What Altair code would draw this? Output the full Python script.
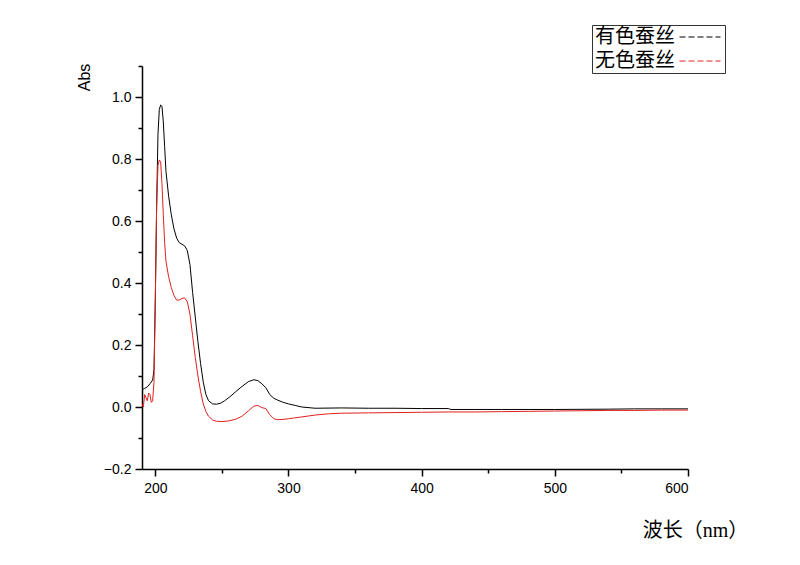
import altair as alt
import pandas as pd

series_names = ["有色蚕丝", "无色蚕丝"]
series_colors = ["#000000", "#e02020"]

black_nm = [190, 192, 194, 196, 198, 199, 200, 201, 202, 203, 204, 205, 206, 207, 208,
            210, 212, 214, 216, 218, 220, 222, 224, 226, 228, 230, 232, 234, 236, 238,
            240, 243, 246, 249, 252, 256, 260, 265, 270, 274, 277, 280, 283, 286, 289,
            292, 296, 300, 305, 310, 320, 340, 360, 380, 400, 420, 422, 440, 460, 500,
            540, 560, 580, 600]
black_abs = [0.055, 0.06, 0.065, 0.075, 0.087, 0.12, 0.35, 0.65, 0.88, 0.96, 0.974, 0.97, 0.92, 0.84, 0.76,
             0.68, 0.62, 0.575, 0.545, 0.53, 0.525, 0.52, 0.505, 0.46, 0.37, 0.29, 0.21, 0.14, 0.08, 0.04,
             0.02, 0.01, 0.009, 0.012, 0.02, 0.033, 0.048, 0.066, 0.082, 0.088, 0.085, 0.075, 0.062, 0.04, 0.028,
             0.022, 0.015, 0.01, 0.005, 0.0, -0.004, -0.003, -0.004, -0.004, -0.005, -0.005, -0.008, -0.008, -0.008, -0.008,
             -0.007, -0.006, -0.006, -0.006]

red_nm = [190, 191, 192, 193, 194, 195, 196, 197, 198, 199, 200, 201, 202, 203, 204,
          205, 206, 207, 208, 210, 212, 214, 216, 218, 220, 222, 224, 226, 228, 230,
          232, 234, 236, 238, 240, 243, 246, 250, 255, 260, 265, 270, 274, 277, 280,
          283, 286, 289, 292, 296, 300, 310, 320, 330, 340, 360, 380, 400, 420, 440,
          460, 480, 500, 520, 540, 560, 580, 600]
red_abs = [0.01, 0.0, 0.04, 0.03, 0.02, 0.045, 0.04, 0.015, 0.02, 0.08, 0.35, 0.65, 0.78, 0.797, 0.79,
           0.72, 0.62, 0.53, 0.47, 0.42, 0.385, 0.36, 0.345, 0.345, 0.35, 0.352, 0.34, 0.30, 0.23, 0.16,
           0.10, 0.05, 0.01, -0.015, -0.03, -0.042, -0.046, -0.047, -0.045, -0.04, -0.03, -0.012, 0.003, 0.005, -0.002,
           -0.005, -0.025, -0.038, -0.041, -0.04, -0.038, -0.032, -0.026, -0.022, -0.02, -0.019, -0.018, -0.017, -0.016, -0.016,
           -0.015, -0.014, -0.013, -0.012, -0.011, -0.011, -0.010, -0.010]

x_ticks = [200, 250, 300, 350, 400, 450, 500, 550, 600]
y_ticks = [-0.2, -0.1, 0.0, 0.1, 0.2, 0.3, 0.4, 0.5, 0.6, 0.7, 0.8, 0.9, 1.0, 1.1]

df = pd.concat([
    pd.DataFrame({"nm": black_nm, "abs": black_abs, "series": series_names[0], "order": range(len(black_nm))}),
    pd.DataFrame({"nm": red_nm, "abs": red_abs, "series": series_names[1], "order": range(len(red_nm))}),
])

cjk_font = "Liberation Serif, Noto Sans CJK SC"

x_axis = alt.Axis(
    values=x_ticks,
    labelExpr="datum.value % 100 == 0 ? format(datum.value, 'd') : ''",
    tickSize={"condition": {"test": "datum.value % 100 == 0", "value": 7}, "value": 4},
    grid=False,
    domainColor="black", domainWidth=1.5, tickColor="black", tickWidth=1.5,
    labelFont="Liberation Sans", labelFontSize=14, labelColor="black", labelPadding=5,
    title="波长（nm）", titleFont=cjk_font, titleFontSize=20, titleFontWeight="normal",
    titleColor="black", titleX=553, titleY=61, titleAlign="center", titleBaseline="middle",
)
y_axis = alt.Axis(
    values=y_ticks,
    labelExpr="abs(round(datum.value * 10)) % 2 == 0 ? format(datum.value, '.1f') : ''",
    tickSize={"condition": {"test": "abs(round(datum.value * 10)) % 2 == 0", "value": 7}, "value": 4},
    grid=False,
    domainColor="black", domainWidth=1.5, tickColor="black", tickWidth=1.5,
    labelFont="Liberation Sans", labelFontSize=14, labelColor="black", labelPadding=4,
    title="Abs", titleFont="Liberation Sans", titleFontSize=16, titleFontWeight="normal",
    titleColor="black", titleX=-58, titleY=11, titleAlign="center", titleBaseline="middle",
    titleAngle=270,
)

legend = alt.Legend(
    orient="none", legendX=450, legendY=-41, title=None,
    symbolType="M-4,0L4,0", symbolSize=105, symbolStrokeWidth=1, symbolDash=[6, 3],
    symbolFillColor="transparent",
    symbolOffset=96, labelOffset={"expr": "-115"},
    labelFont=cjk_font, labelFontSize=20, labelColor="black", labelLimit=300,
    labelBaseline="middle",
    strokeColor="#333333", padding=2, rowPadding=4, fillColor="white",
)

chart = alt.Chart(df).mark_line(strokeWidth=1, clip=True).encode(
    x=alt.X("nm:Q", scale=alt.Scale(domain=[190, 600], nice=False, zero=False), axis=x_axis),
    y=alt.Y("abs:Q", scale=alt.Scale(domain=[-0.2, 1.1], nice=False, zero=False), axis=y_axis),
    color=alt.Color("series:N", scale=alt.Scale(domain=series_names, range=series_colors),
                    sort=series_names, legend=legend),
    order="order:Q",
).properties(
    width=546, height=403,
    background="white",
    autosize=alt.AutoSizeParams(type="none"),
    padding={"left": 134, "top": 58, "right": 100, "bottom": 80},
).configure_view(stroke=None)

chart.save("out.html", embed_options={"renderer": "svg", "actions": False})
